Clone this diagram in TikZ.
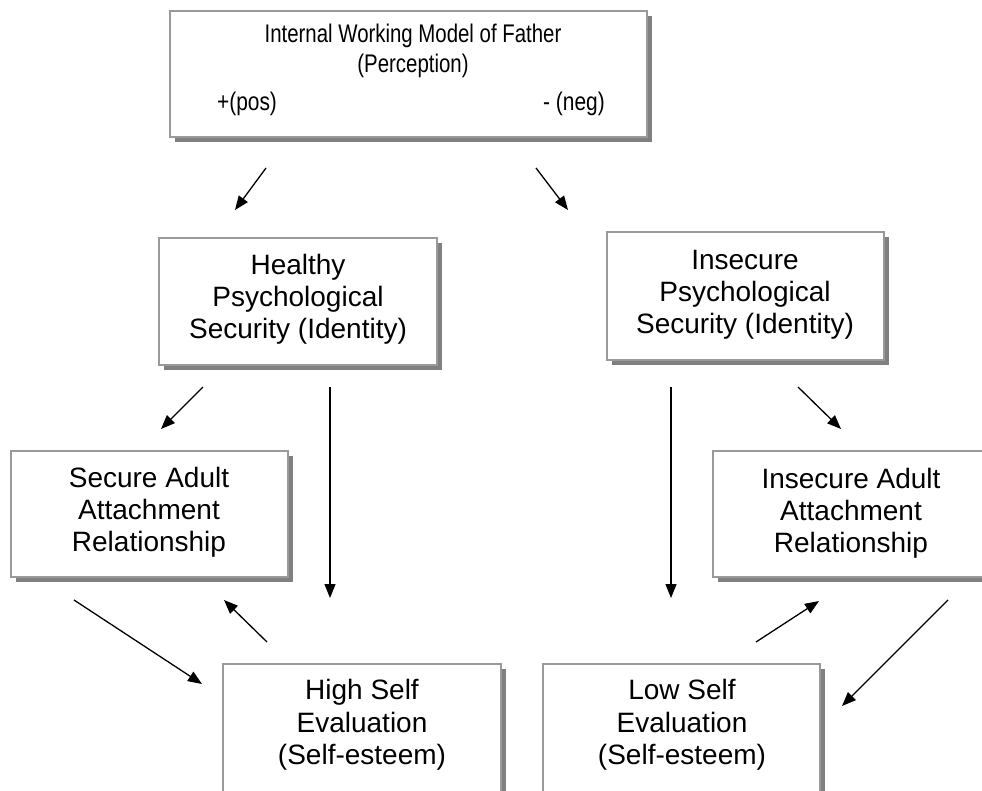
\documentclass[tikz,border=0pt]{standalone}
\usepackage{fontspec}
\setmainfont{Liberation Sans}
\usepackage{graphicx}
\usetikzlibrary{arrows.meta,shadows}
\definecolor{boxline}{HTML}{9A9A9A}
\definecolor{shade}{HTML}{808080}
\begin{document}
\begin{tikzpicture}[x=1pt,y=-1pt,
  box/.style={rectangle, draw=boxline, line width=1.4pt, fill=white, inner sep=0pt,
    drop shadow={shadow xshift=5pt, shadow yshift=-5pt, fill=shade, opacity=1}},
  lbl/.style={anchor=base, inner sep=0pt, font=\fontsize{28}{32}\selectfont},
  toplbl/.style={anchor=base, inner sep=0pt, font=\fontsize{25.5}{29}\selectfont},
  arr/.style={line width=1.3pt, -{Triangle[length=14pt,width=11pt]}}]
\useasboundingbox (0,0) rectangle (982,790);
\clip (0,0) rectangle (982,790);

% boxes
\node[box, minimum width=477pt, minimum height=126pt] (top) at (408.5,74) {};
\node[box, minimum width=278pt, minimum height=127pt] (healthy) at (298,301.5) {};
\node[box, minimum width=277pt, minimum height=128pt] (insecpsy) at (745.5,296) {};
\node[box, minimum width=277pt, minimum height=126pt] (secadult) at (149.5,514) {};
\node[box, minimum width=277pt, minimum height=126pt] (insadult) at (851.5,514) {};
\node[box, minimum width=278pt, minimum height=186pt] (high) at (362,757) {};
\node[box, minimum width=277pt, minimum height=186pt] (low) at (681.5,757) {};

% top box text
\node[toplbl] (t1) at (413,42) {\scalebox{0.8}[1]{Internal Working Model of Father}};
\node[toplbl] (t2) at (413,72) {\scalebox{0.8}[1]{(Perception)}};
\node[toplbl] (t3) at (247,110) {\scalebox{0.82}[1]{+(pos)}};
\node[toplbl] (t4) at (574,110) {\scalebox{0.82}[1]{- (neg)}};

% healthy
\node[lbl] (h1) at (298,274) {Healthy};
\node[lbl] (h2) at (298,306) {Psychological};
\node[lbl] (h3) at (298,338) {Security (Identity)};

% insecure psychological
\node[lbl] (i1) at (745,269) {Insecure};
\node[lbl] (i2) at (745,301) {Psychological};
\node[lbl] (i3) at (745,333) {Security (Identity)};

% secure adult
\node[lbl] (s1) at (149,487) {Secure Adult};
\node[lbl] (s2) at (149,519) {Attachment};
\node[lbl] (s3) at (149,551) {Relationship};

% insecure adult
\node[lbl] (n1) at (851,488) {Insecure Adult};
\node[lbl] (n2) at (851,520) {Attachment};
\node[lbl] (n3) at (851,552) {Relationship};

% high self
\node[lbl] (g1) at (362,699) {High Self};
\node[lbl] (g2) at (362,732) {Evaluation};
\node[lbl] (g3) at (362,764) {(Self-esteem)};

% low self
\node[lbl] (l1) at (682,699) {Low Self};
\node[lbl] (l2) at (682,732) {Evaluation};
\node[lbl] (l3) at (682,764) {(Self-esteem)};

% arrow end points
\coordinate (a1s) at (266,168); \coordinate (a1e) at (235,210);
\coordinate (a2s) at (536,168); \coordinate (a2e) at (568,210);
\coordinate (a3s) at (203,387); \coordinate (a3e) at (161,429);
\coordinate (a4s) at (330,387); \coordinate (a4e) at (330,598);
\coordinate (a5s) at (671,387); \coordinate (a5e) at (671,598);
\coordinate (a6s) at (798,387); \coordinate (a6e) at (841,429);
\coordinate (a7s) at (74,600);  \coordinate (a7e) at (202,684);
\coordinate (a8s) at (267,642); \coordinate (a8e) at (224,600);
\coordinate (a9s) at (756,642); \coordinate (a9e) at (819,601);
\coordinate (a10s) at (948,600); \coordinate (a10e) at (842,706);

\draw[arr] (a1s) -- (a1e);
\draw[arr] (a2s) -- (a2e);
\draw[arr] (a3s) -- (a3e);
\draw[arr] (a4s) -- (a4e);
\draw[arr] (a5s) -- (a5e);
\draw[arr] (a6s) -- (a6e);
\draw[arr] (a7s) -- (a7e);
\draw[arr] (a8s) -- (a8e);
\draw[arr] (a9s) -- (a9e);
\draw[arr] (a10s) -- (a10e);
\end{tikzpicture}
\end{document}
